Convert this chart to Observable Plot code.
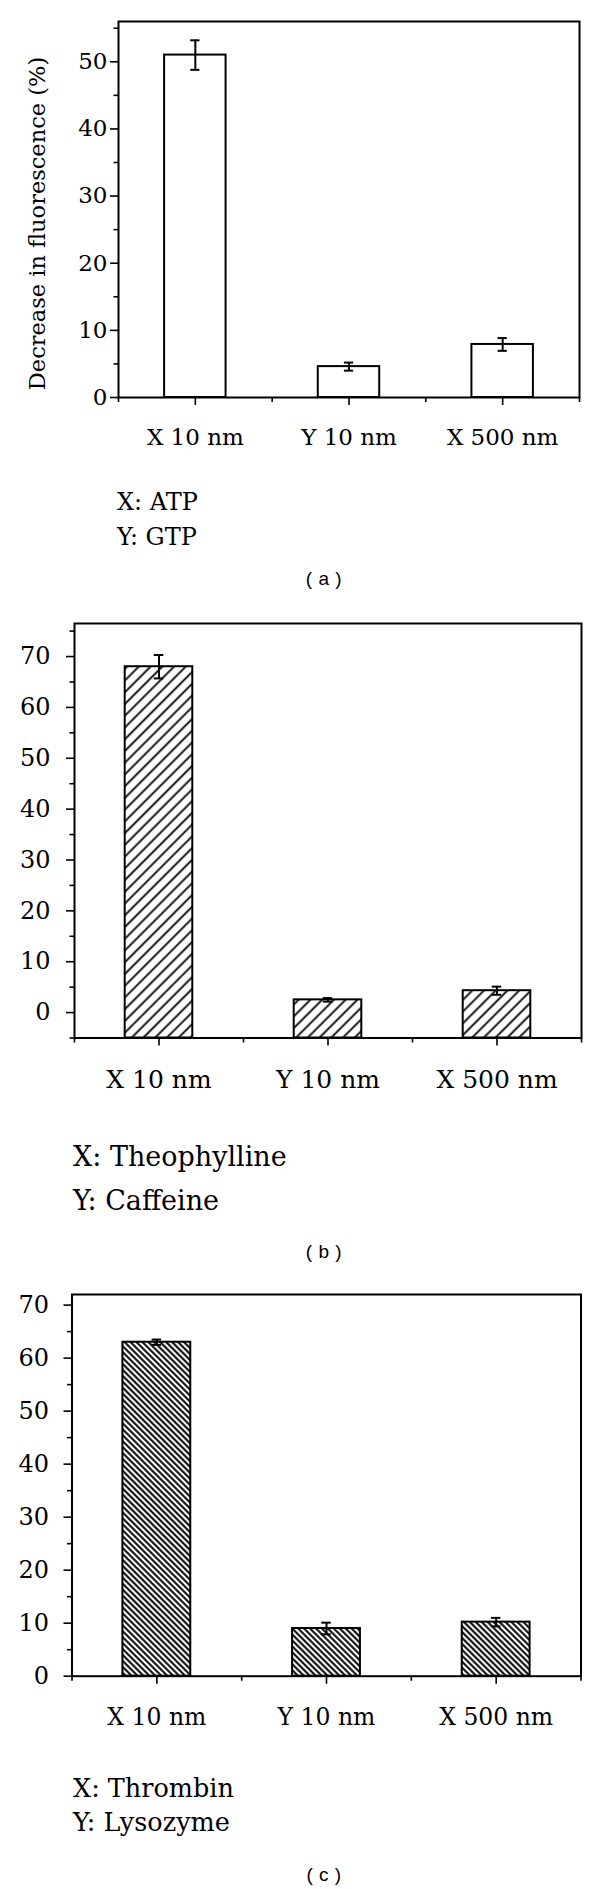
<!DOCTYPE html>
<html><head><meta charset="utf-8">
<script src="https://cdn.jsdelivr.net/npm/d3@7"></script>
<script src="https://cdn.jsdelivr.net/npm/@observablehq/plot@0.6"></script>
<style>
body{margin:0;background:#fff;}
#page{position:relative;width:600px;height:1889px;overflow:hidden;background:#fff;}
.panel{position:absolute;left:0;}
.note{position:absolute;font-family:"DejaVu Serif",serif;color:#000;white-space:nowrap;line-height:1;}
.cap{position:absolute;font-family:"Liberation Sans",Arial,sans-serif;color:#000;transform:translate(-50%,-50%);white-space:pre;line-height:1;letter-spacing:0.5px;}
</style></head><body><div id="page"></div>
<script>
// ---- data ----
const categories = ["X 10 nm", "Y 10 nm", "X 500 nm"];

const valuesA = [51, 4.6, 7.9];
const errorsA = [2.2, 0.6, 0.95];
const valuesB = [68, 2.5, 4.3];
const errorsB = [2.3, 0.35, 0.8];
const valuesC = [63, 9.0, 10.2];
const errorsC = [0.5, 1.1, 0.8];

const yMajorA = [0, 10, 20, 30, 40, 50];
const yMinorA = [5, 15, 25, 35, 45, 55];
const yMajorB = [0, 10, 20, 30, 40, 50, 60, 70];
const yMinorB = [-5, 5, 15, 25, 35, 45, 55, 65, 75];
const yMajorC = [0, 10, 20, 30, 40, 50, 60, 70];
const yMinorC = [5, 15, 25, 35, 45, 55, 65];

const yLabelA = "Decrease in fluorescence (%)";
const notesA = ["X: ATP", "Y: GTP"];
const notesB = ["X: Theophylline", "Y: Caffeine"];
const notesC = ["X: Thrombin", "Y: Lysozyme"];
const captions = ["( a )", "( b )", "( c )"];

// ---- drawing ----
const page = document.getElementById("page");
const NS = "http://www.w3.org/2000/svg";
const SERIF = "'DejaVu Serif', serif";

function addPattern(svg, id, angle, spacing, width) {
  const defs = document.createElementNS(NS, "defs");
  const pat = document.createElementNS(NS, "pattern");
  pat.setAttribute("id", id);
  pat.setAttribute("patternUnits", "userSpaceOnUse");
  pat.setAttribute("width", spacing);
  pat.setAttribute("height", spacing);
  pat.setAttribute("patternTransform", `rotate(${angle})`);
  const bg = document.createElementNS(NS, "rect");
  bg.setAttribute("width", spacing); bg.setAttribute("height", spacing); bg.setAttribute("fill", "white");
  const ln = document.createElementNS(NS, "line");
  ln.setAttribute("x1", spacing / 2); ln.setAttribute("x2", spacing / 2);
  ln.setAttribute("y1", -1); ln.setAttribute("y2", spacing + 1);
  ln.setAttribute("stroke", "black"); ln.setAttribute("stroke-width", width);
  pat.appendChild(bg); pat.appendChild(ln); defs.appendChild(pat);
  svg.insertBefore(defs, svg.firstChild);
}

function panel(o) {
  const data = categories.map((c, i) => ({i, label: c, v: o.values[i], e: o.errors[i]}));
  const idx = categories.map((_, i) => i);
  const bounds = categories.map((_, i) => i - 0.5).concat([categories.length - 0.5]);
  const half = 0.2, cap = o.cap;
  const marks = [
    Plot.rectY(data, {x1: d => d.i - half, x2: d => d.i + half, y1: o.yDomain[0] > 0 ? 0 : o.yDomain[0], y2: "v",
      fill: o.fill, stroke: "black", strokeWidth: 2}),
    Plot.ruleX(data, {x: "i", y1: d => d.v - d.e, y2: d => d.v + d.e, stroke: "black", strokeWidth: 2}),
    Plot.ruleY(data, {y: d => d.v + d.e, x1: d => d.i - cap, x2: d => d.i + cap, stroke: "black", strokeWidth: 2}),
    Plot.ruleY(data, {y: d => d.v - d.e, x1: d => d.i - cap, x2: d => d.i + cap, stroke: "black", strokeWidth: 2}),
    Plot.frame({stroke: "black", strokeWidth: 2}),
    Plot.axisY({ticks: o.yMajor, tickSize: 8, tickPadding: o.yPad, fontSize: o.font, label: null, stroke: "black", strokeWidth: 1.6}),
    Plot.axisY({ticks: o.yMinor, tickSize: 4.5, tickFormat: () => "", label: null, stroke: "black", strokeWidth: 1.6}),
    Plot.axisX({ticks: idx, tickSize: 8, tickPadding: o.xPad, tickFormat: i => categories[i], fontSize: o.xFont, label: null, stroke: "black", strokeWidth: 1.6}),
    Plot.axisX({ticks: bounds, tickSize: 5, tickFormat: () => "", label: null, stroke: "black", strokeWidth: 1.6})
  ];
  if (o.yLabel) marks.push(Plot.text([o.yLabel], {frameAnchor: "left", textAnchor: "middle", text: d => d, rotate: -90, dx: -81, dy: 14, fontSize: o.labelFont, fill: "black"}));
  const svg = Plot.plot({
    width: 600, height: o.height,
    marginTop: o.marginTop, marginBottom: o.marginBottom, marginLeft: o.marginLeft, marginRight: o.marginRight,
    x: {domain: [-0.5, categories.length - 0.5]},
    y: {domain: o.yDomain},
    style: {fontFamily: SERIF, color: "black", background: "transparent", overflow: "visible"},
    marks
  });
  if (o.pattern) addPattern(svg, o.pattern.id, o.pattern.angle, o.pattern.spacing, o.pattern.width);
  svg.classList.add("panel");
  svg.style.top = o.top + "px";
  page.appendChild(svg);

  o.notes.forEach((t, k) => {
    const d = document.createElement("div");
    d.className = "note";
    d.style.fontSize = o.noteFont + "px";
    d.style.left = o.noteX + "px";
    d.style.top = (o.noteBase[k] - 0.846 * o.noteFont) + "px";
    d.textContent = t;
    page.appendChild(d);
  });
  const c = document.createElement("div");
  c.className = "cap";
  c.style.fontSize = "19px";
  c.style.left = "324px";
  c.style.top = o.capY + "px";
  c.textContent = o.caption;
  page.appendChild(c);
}

panel({
  values: valuesA, errors: errorsA, yDomain: [0, 56], yMajor: yMajorA, yMinor: yMinorA,
  top: 0, height: 460, marginTop: 21, marginBottom: 63, marginLeft: 118, marginRight: 21,
  font: 23, xFont: 23, labelFont: 22.5, yPad: 3, xPad: 23, cap: 0.03, fill: "white",
  yLabel: yLabelA, notes: notesA, noteFont: 24, noteX: 117, noteBase: [510, 545],
  caption: captions[0], capY: 578
});

panel({
  values: valuesB, errors: errorsB, yDomain: [-5, 76.5], yMajor: yMajorB, yMinor: yMinorB,
  top: 600, height: 520, marginTop: 23, marginBottom: 82.5, marginLeft: 74, marginRight: 19,
  font: 24, xFont: 25, yPad: 16, xPad: 24, cap: 0.028, fill: "url(#hatchB)",
  pattern: {id: "hatchB", angle: 45, spacing: 8.3, width: 1.8},
  notes: notesB, noteFont: 27, noteX: 73, noteBase: [1166, 1210],
  caption: captions[1], capY: 1250.6
});

panel({
  values: valuesC, errors: errorsC, yDomain: [0, 72], yMajor: yMajorC, yMinor: yMinorC,
  top: 1262, height: 500, marginTop: 32, marginBottom: 86.3, marginLeft: 71.5, marginRight: 19.5,
  font: 24, xFont: 23.5, yPad: 15, xPad: 24, cap: 0.028, fill: "url(#hatchC)",
  pattern: {id: "hatchC", angle: -45, spacing: 4.2, width: 2},
  notes: notesC, noteFont: 25.5, noteX: 73, noteBase: [1797.5, 1831.6],
  caption: captions[2], capY: 1873.7
});
</script>
</body></html>
